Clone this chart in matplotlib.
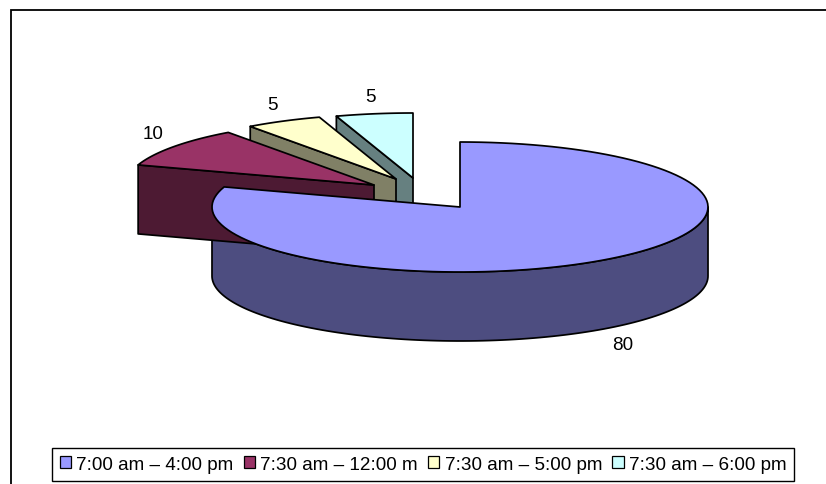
import numpy as np
import matplotlib
matplotlib.use("Agg")
import matplotlib.pyplot as plt
from matplotlib.patches import Patch, Polygon

plt.rcParams['font.family'] = ["Liberation Sans", "DejaVu Sans"]

# chart data
shift_labels = ["7:00 am \u2013 4:00 pm", "7:30 am \u2013 12:00 m",
                "7:30 am \u2013 5:00 pm", "7:30 am \u2013 6:00 pm"]
shift_values = [80, 10, 5, 5]

# styles, one per slice
top_colors = ["#9999FF", "#993366", "#FFFFCC", "#CCFFFF"]
side_colors = ["#4D4D80", "#4D1A33", "#808066", "#668080"]

# pie geometry, in pixels
RX, RY, DEPTH = 248, 65, 69
apexes = [(460, 208), (374, 186), (396, 180), (413, 179)]
label_pos = [(623, 346), (153, 135), (272, 106), (370, 97)]


def arc_points(center, start, end, n=120):
    """angles are clockwise from the top, as in the spreadsheet pie"""
    ang = np.radians(np.linspace(start, end, n))
    return np.column_stack([center[0] + RX * np.sin(ang),
                            center[1] - RY * np.cos(ang)])


fig = plt.figure(figsize=(8.26, 4.85), dpi=100)
ax = fig.add_axes([0, 0, 1, 1])
ax.set_xlim(0, 826)
ax.set_ylim(485, 0)
ax.axis("off")

# chart frame: only top and left edges are in the crop
ax.plot([10.5, 10.5, 826], [485, 11, 11], color="black", lw=1.3, solid_joinstyle="miter")

# slice angles come from the values
total = sum(shift_values)
stops = np.cumsum([0] + shift_values) * 360.0 / total
edge = {"edgecolor": "black", "linewidth": 1.25, "joinstyle": "round"}

# back slices first, the big one goes on top
for i in [3, 2, 1, 0]:
    start, end = stops[i], stops[i + 1]
    apex = np.array(apexes[i])
    arc = arc_points(apex, start, end)
    down = np.array([0, DEPTH])
    if i == 0:
        # outer wall, front half of the rim
        rim = arc_points(apex, 90, 270)
        ax.add_patch(Polygon(np.vstack([rim, (rim + down)[::-1]]),
                             facecolor=side_colors[i], zorder=i + 2, **edge))
        z = 3
    else:
        # radial wall facing the viewer
        wall = np.array([arc[0], apex, apex + down, arc[0] + down])
        ax.add_patch(Polygon(wall, facecolor=side_colors[i], zorder=4 - i, **edge))
        z = 4 - i
    ax.add_patch(Polygon(np.vstack([apex, arc]), facecolor=top_colors[i], zorder=z, **edge))

for val, (x, y) in zip(shift_values, label_pos):
    ax.text(x, y, str(val), ha="center", va="center", fontsize=13.6, color="black")

handles = [Patch(facecolor=c, edgecolor="black", linewidth=0.9, label=t)
           for c, t in zip(top_colors, shift_labels)]
leg = ax.legend(handles=handles, ncol=4, loc="center", fontsize=13.6,
                bbox_to_anchor=(423 / 826, 1 - 465.5 / 485),
                fancybox=False, framealpha=1, edgecolor="black",
                handlelength=0.6, handleheight=0.6, handletextpad=0.27,
                columnspacing=0.55, borderpad=0.42, borderaxespad=0)
leg.get_frame().set_linewidth(1.0)

fig.savefig("out.png", dpi=100)
